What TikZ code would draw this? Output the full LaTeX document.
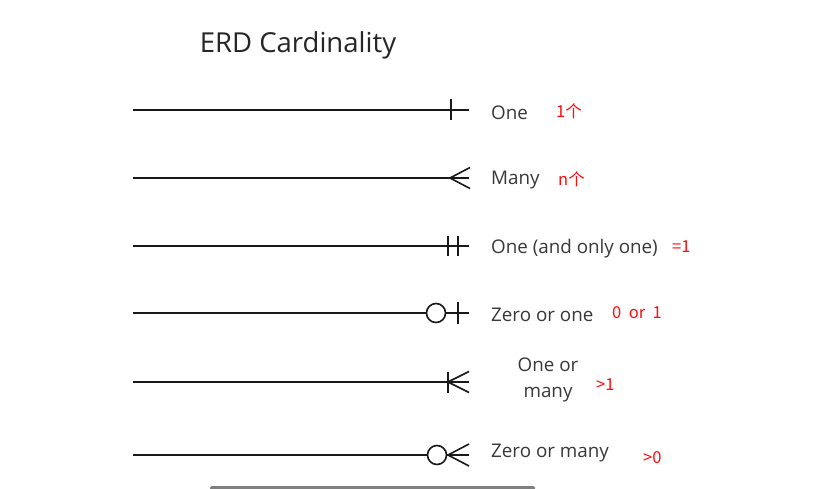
\documentclass[tikz,border=0pt]{standalone}
\usepackage{fontspec}
\setmainfont{Open Sans}
\newfontfamily\cjk{Noto Sans CJK SC}
\begin{document}
\begin{tikzpicture}[x=1pt,y=-1pt,
  erline/.style={draw=black!90, line width=1.6pt},
  lbl/.style={anchor=west, text=black!78, font=\fontsize{18.8}{22}\selectfont, inner sep=0pt},
  note/.style={anchor=west, text=red!95, font=\cjk\fontsize{16.5}{19}\selectfont, inner sep=0pt},
  ring/.style={draw=black!90, line width=1.6pt, fill=white, circle, minimum size=19pt, inner sep=0pt}]
\useasboundingbox (0,0) rectangle (816,488);
\fill[white] (0,0) rectangle (816,488);
% title
\node[text=black!85, font=\fontsize{27.5}{32}\selectfont, inner sep=0pt] (title) at (298,45) {ERD Cardinality};
% row coordinates
\foreach \n/\y in {1/110,2/178,3/246,4/313,5/382,6/455}{
  \coordinate (s\n) at (133,\y);
  \coordinate (e\n) at (469,\y);
}
% Row 1: One
\draw[erline] (s1) -- (e1);
\draw[erline] ([xshift=-18pt,yshift=-10pt]e1) -- ([xshift=-18pt,yshift=11pt]e1);
\node[lbl] (l1) at (491,112.5) {One};
\node[note] (n1) at (556,111) {1个};
% Row 2: Many
\draw[erline] (s2) -- (e2);
\draw[erline] ([xshift=1pt,yshift=-10.5pt]e2) -- ([xshift=-19pt]e2) -- ([xshift=1pt,yshift=10.5pt]e2);
\node[lbl] (l2) at (491,180.5) {Many};
\node[note] (n2) at (558,179) {n个};
% Row 3: One and only one
\draw[erline] (s3) -- (e3);
\draw[erline] ([xshift=-21pt,yshift=-10pt]e3) -- ([xshift=-21pt,yshift=10pt]e3);
\draw[erline] ([xshift=-11pt,yshift=-10pt]e3) -- ([xshift=-11pt,yshift=10pt]e3);
\node[lbl] (l3) at (491,248.5) {One (and only one)};
\node[note] (n3) at (672,247) {=1};
% Row 4: Zero or one
\draw[erline] (s4) -- (e4);
\node[ring] (c4) at (436,313) {};
\draw[erline] ([xshift=-11pt,yshift=-11pt]e4) -- ([xshift=-11pt,yshift=11pt]e4);
\node[lbl] (l4) at (491,314.5) {Zero or one};
\node[note] (n4) at (612,313) {0\ \ or\ \ 1};
% Row 5: One or many
\draw[erline] (s5) -- (e5);
\draw[erline] ([xshift=-21pt,yshift=-10.5pt]e5) -- ([xshift=-21pt,yshift=10.5pt]e5);
\draw[erline] ([xshift=0pt,yshift=-10.5pt]e5) -- ([xshift=-21pt]e5) -- ([xshift=0pt,yshift=10.5pt]e5);
\node[lbl, anchor=center, align=center, font=\fontsize{18.8}{26}\selectfont] (l5) at (548,380) {One or\\many};
\node[note] (n5) at (596,385) {>1};
% Row 6: Zero or many
\draw[erline] (s6) -- (e6);
\node[ring] (c6) at (437,455) {};
\draw[erline] ([xshift=0pt,yshift=-11pt]e6) -- ([xshift=-21pt]e6) -- ([xshift=0pt,yshift=11pt]e6);
\node[lbl] (l6) at (491,453) {Zero or many};
\node[note] (n6) at (643,458) {>0};
% bottom bar
\fill[black!50, rounded corners=1.5pt] (210,486) rectangle (535,490);
\end{tikzpicture}
\end{document}
